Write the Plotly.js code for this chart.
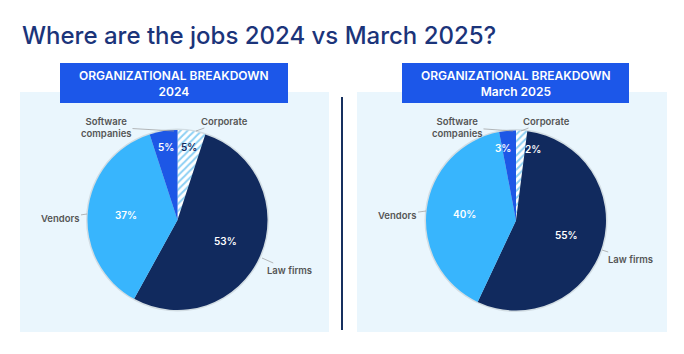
<!DOCTYPE html>
<html>
<head>
<meta charset="utf-8">
<script src="https://cdn.plot.ly/plotly-3.0.1.min.js"></script>
<style>
  html, body { margin: 0; padding: 0; background: #ffffff; }
  #chart { width: 684px; height: 354px; }
</style>
</head>
<body>
<div id="chart"></div>
<script>
// ---------------- DATA ----------------
const categories = ["Corporate", "Law firms", "Vendors", "Software companies"];
const values2024 = [5, 53, 37, 5];
const valuesMar2025 = [2, 55, 40, 3];
const chartTitle = "Where are the jobs 2024 vs March 2025?";
const panelTitles = ["ORGANIZATIONAL BREAKDOWN<br>2024", "ORGANIZATIONAL BREAKDOWN<br>March 2025"];
const categoryLabels = ["Corporate", "Law firms", "Vendors", "Software<br>companies"];

// ---------------- STYLE / LAYOUT ----------------
const W = 684, H = 354;
const px = x => x / W;
const py = y => 1 - y / H;
const NAVY = "#112a5e", LIGHT = "#38b5fd", BLUE = "#1d57e6", BG = "#eaf6fd", HEADER = "#1c57e9";
const sliceColors = ["#ffffff", NAVY, LIGHT, BLUE];
const FONT = "Inter, 'Noto Sans', sans-serif";

const pies = [
  { values: values2024, cx: 177.5, cy: 220, r: 90,
    panel: [20, 92, 329, 332], header: [60, 63, 288, 103],
    pctColors: [NAVY, "#ffffff", "#ffffff", "#ffffff"],
    labelPos: [[224, 121], [289, 270], [60, 218], [106, 127]],
    tipPos: [[196, 131], [262, 258], [87, 214], [174, 131]] },
  { values: valuesMar2025, cx: 516, cy: 220.5, r: 90,
    panel: [357, 92, 667, 332], header: [402, 63, 629, 103],
    pctColors: ["#ffffff", "#ffffff", "#ffffff", "#ffffff"],
    labelPos: [[546, 121], [630, 259], [397, 215], [457, 127]],
    tipPos: [[521, 131], [602, 250], [426, 211], [513, 131]] }
];

const data = [];
const shapes = [];
const annotations = [];

annotations.push({
  text: chartTitle, xref: "paper", yref: "paper", x: px(20), y: py(35),
  xanchor: "left", yanchor: "middle", showarrow: false,
  font: { family: FONT, size: 24, color: "#1b347a", weight: 500 }
});

// divider
shapes.push({ type: "line", xref: "paper", yref: "paper",
  x0: px(342), x1: px(342), y0: py(97), y1: py(330),
  line: { color: "#16305f", width: 2 } });

pies.forEach((p, i) => {
  // panel background
  shapes.push({ type: "rect", xref: "paper", yref: "paper", layer: "below",
    x0: px(p.panel[0]), x1: px(p.panel[2]), y0: py(p.panel[3]), y1: py(p.panel[1]),
    fillcolor: BG, line: { width: 0 } });
  // header box
  shapes.push({ type: "rect", xref: "paper", yref: "paper", layer: "below",
    x0: px(p.header[0]), x1: px(p.header[2]), y0: py(p.header[3]), y1: py(p.header[1]),
    fillcolor: HEADER, line: { width: 0 } });
  annotations.push({ text: panelTitles[i], xref: "paper", yref: "paper",
    x: px((p.header[0] + p.header[2]) / 2), y: py((p.header[1] + p.header[3]) / 2),
    xanchor: "center", yanchor: "middle", showarrow: false,
    font: { family: FONT, size: 12, color: "#ffffff", weight: 600 } });
  // soft shadow ring
  shapes.push({ type: "circle", xref: "paper", yref: "paper", layer: "below",
    x0: px(p.cx - p.r - 1.5), x1: px(p.cx + p.r + 1.5),
    y0: py(p.cy + p.r + 1.5), y1: py(p.cy - p.r - 1.5),
    fillcolor: "rgba(0,0,0,0.10)", line: { width: 0 } });

  data.push({
    type: "pie",
    labels: categories,
    values: p.values,
    sort: false,
    direction: "clockwise",
    rotation: 0,
    textinfo: "none",
    hoverinfo: "none",
    showlegend: false,
    domain: { x: [px(p.cx - p.r), px(p.cx + p.r)], y: [py(p.cy + p.r), py(p.cy - p.r)] },
    marker: {
      colors: sliceColors,
      line: { width: 0 },
      pattern: { shape: ["/", "", "", ""], fgcolor: "#8dd0f4", size: 5, solidity: 0.4 }
    }
  });

  // percent labels placed from the data (slice mid-angles)
  const total = p.values.reduce((a, b) => a + b, 0);
  let cum = 0;
  p.values.forEach((v, k) => {
    const frac = v / total;
    let mid = (cum + frac / 2) * 360;
    cum += frac;
    const small = frac < 0.1;
    if (frac < 0.04) mid = mid < 180 ? Math.max(mid, 13) : Math.min(mid, 350);
    const rr = (small ? 0.82 : 0.58) * p.r;
    const a = mid * Math.PI / 180;
    const x = p.cx + rr * Math.sin(a);
    const y = p.cy - rr * Math.cos(a);
    annotations.push({ text: Math.round(frac * 100) + "%", xref: "paper", yref: "paper",
      x: px(x), y: py(y), xanchor: "center", yanchor: "middle", showarrow: false,
      font: { family: FONT, size: 10, color: p.pctColors[k], weight: 600 } });
  });

  // category labels with leader lines
  categoryLabels.forEach((lab, k) => {
    const t = p.tipPos[k], l = p.labelPos[k];
    annotations.push({ text: lab, xref: "paper", yref: "paper",
      x: px(t[0]), y: py(t[1]), ax: l[0] - t[0], ay: l[1] - t[1],
      showarrow: true, arrowhead: 0, arrowwidth: 0.7, arrowcolor: "#9a9a9a", standoff: 0,
      align: "center",
      font: { family: FONT, size: 9.5, color: "#555555", weight: 600 } });
  });
});

const layout = {
  width: W, height: H,
  margin: { l: 0, r: 0, t: 0, b: 0 },
  paper_bgcolor: "#ffffff",
  plot_bgcolor: "#ffffff",
  shapes: shapes,
  annotations: annotations,
  font: { family: FONT }
};

Plotly.newPlot("chart", data, layout, { displayModeBar: false, staticPlot: true });
</script>
</body>
</html>
